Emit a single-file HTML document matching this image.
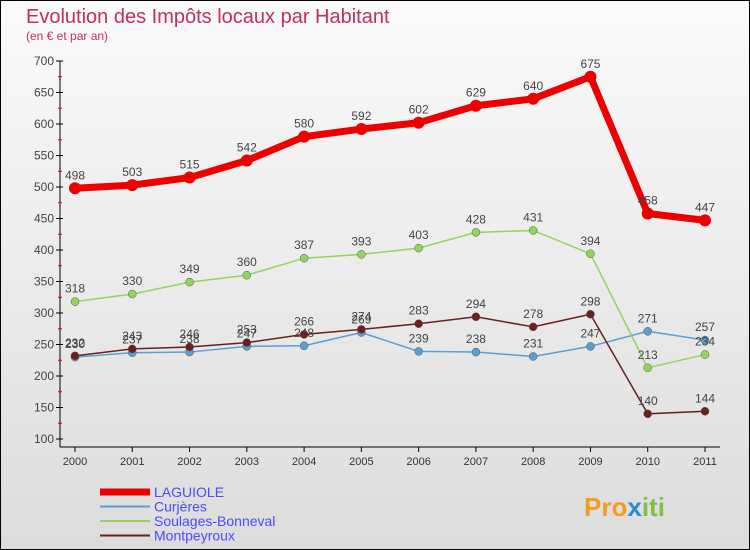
<!DOCTYPE html>
<html><head><meta charset="utf-8"><style>
body{margin:0;width:750px;height:550px;overflow:hidden;font-family:"Liberation Sans",sans-serif}
#c{position:absolute;left:0;top:0;width:748px;height:548px;border:1px solid #000;background:linear-gradient(#fafafa,#dcdcdc)}
</style></head><body>
<div id="c">
<svg width="750" height="550" style="position:absolute;left:-1px;top:-1px">
<text x="26" y="23" font-size="20" fill="#c0305a">Evolution des Impôts locaux par Habitant</text>
<text x="26" y="40" font-size="12" fill="#c0305a">(en € et par an)</text>
<g id="axes"></g><g id="series"></g>
<text x="584" y="516" font-size="26" font-weight="bold" fill="#f39c1e">Pro<tspan fill="#2a8ad8">x</tspan><tspan fill="#7cc242">iti</tspan></text>
</svg></div>
<script>
const years=["2000","2001","2002","2003","2004","2005","2006","2007","2008","2009","2010","2011"];
const laguiole=[498,503,515,542,580,592,602,629,640,675,458,447];
const curjeres=[230,237,238,247,248,269,239,238,231,247,271,257];
const soulages=[318,330,349,360,387,393,403,428,431,394,213,234];
const montpeyroux=[232,243,246,253,266,274,283,294,278,298,140,144];
const yTicks=[100,150,200,250,300,350,400,450,500,550,600,650,700];
const NS="http://www.w3.org/2000/svg";
const xs=i=>75+i*(630/11), ys=v=>439-(v-100)*(378/600);
function mk(t,a,p){const e=document.createElementNS(NS,t);for(const k in a)e.setAttribute(k,a[k]);p.appendChild(e);return e;}
const ax=document.getElementById('axes');
let l=mk('line',{x1:60,y1:61,x2:60,y2:447,stroke:'#000'},ax);

l=mk('line',{x1:60,y1:447,x2:720,y2:447,stroke:'#000'},ax);

yTicks.forEach((v,i)=>{const y=ys(v);mk('line',{x1:56,y1:y,x2:63,y2:y,stroke:'#000'},ax);
if(i<yTicks.length-1)mk('line',{x1:58,y1:y-31.5/2*0+ -15.75,x2:62,y2:y-15.75,stroke:'#d00'},ax);
const t=mk('text',{x:54,y:y+4,'font-size':12,fill:'#444','text-anchor':'end'},ax);t.textContent=v;
});
years.forEach((yr,i)=>{const x=xs(i);mk('line',{x1:x,y1:447,x2:x,y2:452,stroke:'#000'},ax);
const t=mk('text',{x:x,y:465,'font-size':11,fill:'#333','text-anchor':'middle'},ax);t.textContent=yr;
});
const S=document.getElementById('series');
const defs=[["laguiole",laguiole,"#ee0000",7,6,"LAGUIOLE"],["curjeres",curjeres,"#5a9fd4",1.5,4,"Curjères"],["soulages",soulages,"#8fd65a",1.5,4,"Soulages-Bonneval"],["montpeyroux",montpeyroux,"#6b1f1f",1.5,4,"Montpeyroux"]];
defs.forEach(([id,d,c,w,r,name],k)=>{
const g=mk('g',{},S);
const p=mk('polyline',{points:d.map((v,i)=>xs(i)+','+ys(v)).join(' '),fill:'none',stroke:c,'stroke-width':w},g);

d.forEach((v,i)=>{const pt=mk('circle',{cx:xs(i),cy:ys(v),r:r,fill:c,stroke:k?'#555':c,'stroke-width':k?0.5:0},g);

const t=mk('text',{x:xs(i),y:ys(v)-9,'font-size':12,fill:'#444','text-anchor':'middle'},g);t.textContent=v;
});
const ly=492+k*14.5;
const lg=mk('g',{},S);
mk('line',{x1:100,y1:ly,x2:150,y2:ly,stroke:c,'stroke-width':k?2:7},lg);
const lt=mk('text',{x:154,y:ly+5,'font-size':14,fill:'#4a4aff'},lg);lt.textContent=name;
});
</script></body></html>
